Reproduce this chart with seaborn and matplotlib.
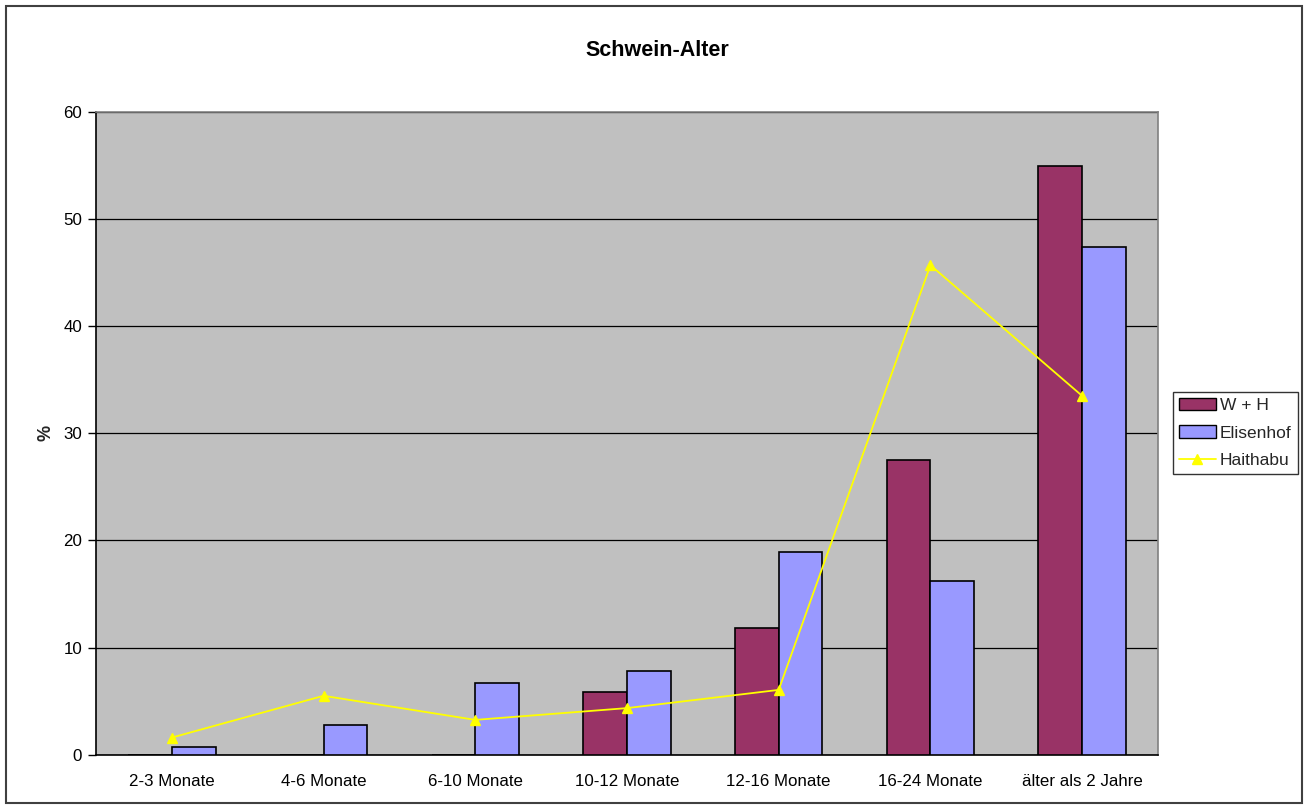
"""Schwein-Alter: Altersverteilung der Schweine (W + H, Elisenhof, Haithabu)."""

import matplotlib

matplotlib.use("Agg")
import matplotlib.pyplot as plt
import numpy as np
import pandas as pd
import seaborn as sns
from matplotlib.lines import Line2D
from matplotlib.patches import Patch, Rectangle

CATEGORIES = ["2-3 Monate", "4-6 Monate", "6-10 Monate", "10-12 Monate",
              "12-16 Monate", "16-24 Monate", "älter als 2 Jahre"]
WH = [0, 0, 0, 5.9, 11.8, 27.5, 55.0]
ELISENHOF = [0.75, 2.75, 6.7, 7.8, 18.9, 16.2, 47.4]
HAITHABU = [1.6, 5.5, 3.25, 4.35, 6.05, 45.7, 33.5]
SERIES = ["W + H", "Elisenhof"]
COLORS = {"W + H": "#993366", "Elisenhof": "#9999ff"}
LINE_COLOR = "#ffff00"

sns.set_theme(style="white")
plt.rcParams["font.family"] = ["Liberation Sans", "DejaVu Sans"]

df = pd.DataFrame({
    "Alter": CATEGORIES * 2,
    "Wert": WH + ELISENHOF,
    "Serie": [SERIES[0]] * len(CATEGORIES) + [SERIES[1]] * len(CATEGORIES),
})

fig = plt.figure(figsize=(13.08, 8.09), dpi=100)
fig.patch.set_facecolor("white")
ax = fig.add_axes([96 / 1308, 1 - 754.7 / 809, (1158 - 96) / 1308, (754.7 - 112) / 809])
ax.set_facecolor("#c0c0c0")

sns.barplot(data=df, x="Alter", y="Wert", hue="Serie", order=CATEGORIES,
            hue_order=SERIES, palette=COLORS, saturation=1, width=0.576, gap=0,
            edgecolor="black", linewidth=1.2, ax=ax, legend=False, zorder=3)
sns.pointplot(x=CATEGORIES, y=HAITHABU, order=CATEGORIES, color=LINE_COLOR,
              markers="^", markersize=7, linewidth=1.3, ax=ax, zorder=4)

ax.set_ylim(0, 60)
ax.set_xlim(-0.5, len(CATEGORIES) - 0.5)
ax.set_yticks(np.arange(0, 61, 10))
ax.yaxis.grid(True, color="black", linewidth=0.9, zorder=1)
ax.set_axisbelow(True)
ax.set_xticks(np.arange(len(CATEGORIES)))
ax.set_xticklabels(CATEGORIES)
ax.set_xticks(np.arange(-0.5, len(CATEGORIES)), minor=True)
ax.tick_params(axis="x", which="major", length=0, pad=14, labelsize=12.2, colors="black")
ax.tick_params(axis="x", which="minor", length=6, width=1, direction="inout", color="black")
ax.tick_params(axis="y", length=6, width=1, direction="out", left=True, labelsize=12.2,
               colors="black", pad=4)
for side in ["left", "bottom"]:
    ax.spines[side].set_color("black")
    ax.spines[side].set_linewidth(1.2)
for side in ["top", "right"]:
    ax.spines[side].set_color("#808080")
    ax.spines[side].set_linewidth(1.2)

ax.set_xlabel("")
ax.set_ylabel("%", fontsize=13, fontweight="bold", labelpad=6)
fig.text(657 / 1308, 1 - 50 / 809, "Schwein-Alter", fontsize=15.5, fontweight="bold",
         ha="center", va="center", color="black")

handles = [Patch(facecolor=COLORS["W + H"], edgecolor="black", label="W + H"),
           Patch(facecolor=COLORS["Elisenhof"], edgecolor="black", label="Elisenhof"),
           Line2D([0], [0], color=LINE_COLOR, marker="^", markersize=7, lw=1.3,
                  label="Haithabu")]
leg = fig.legend(handles=handles, loc="center left", bbox_to_anchor=(1173 / 1308, 1 - 433 / 809),
                 frameon=True, fancybox=False, fontsize=12.5, handlelength=2.1,
                 handletextpad=0.25, borderpad=0.35, labelspacing=0.72, borderaxespad=0)
leg.get_frame().set_edgecolor("black")
leg.get_frame().set_linewidth(1)

fig.patches.append(Rectangle((6 / 1308, 6 / 809), 1 - 12 / 1308, 1 - 12 / 809,
                             transform=fig.transFigure, fill=False,
                             edgecolor="#404040", linewidth=1.5))

fig.savefig("out.png", dpi=100)
